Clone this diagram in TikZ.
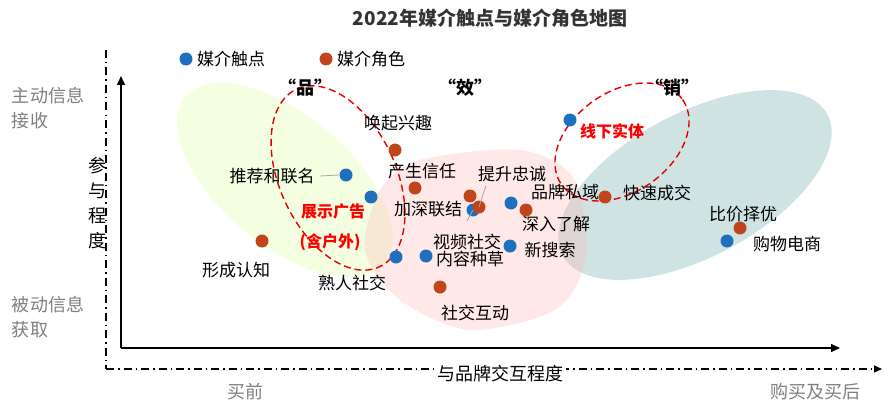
\documentclass[tikz,border=0pt]{standalone}
\usepackage{fontspec}
\setmainfont{Noto Sans CJK SC}
\usetikzlibrary{arrows.meta}
\definecolor{bdot}{HTML}{1F6FBF}
\definecolor{odot}{HTML}{C0451B}
\definecolor{gtxt}{HTML}{7F7F7F}
\tikzset{
 bd/.style={circle,fill=bdot,inner sep=0pt,minimum size=13pt},
 od/.style={circle,fill=odot,inner sep=0pt,minimum size=13pt},
 lb/.style={font=\fontsize{17}{17}\selectfont,inner sep=0pt},
 rl/.style={font=\fontsize{16}{16}\selectfont\bfseries,text=red,inner sep=0pt},
 gl/.style={font=\fontsize{18}{25}\selectfont,text=gtxt,inner sep=0pt,align=left},
 ptr/.style={draw=gray!70,line width=0.8pt},
 dd/.style={line width=1.2pt,dash pattern=on 8pt off 4pt on 1.5pt off 4pt},
 ring/.style={draw=red!90!black,line width=1.4pt,dash pattern=on 7pt off 4pt}
}
\begin{document}
\begin{tikzpicture}[x=1pt,y=-1pt]
\useasboundingbox (0,0) rectangle (890,409);
% blobs
\fill[green!40!yellow,opacity=0.12,rotate around={-40:(285,180)}] (285,180) ellipse (130 and 65);
\fill[teal!70!gray,opacity=0.22,rotate around={28:(695,185)}] (695,185) ellipse (150 and 72);
\fill[red!30,opacity=0.3] plot[smooth cycle] coordinates {(420,160)(520,150)(575,180)(585,260)(555,310)(470,330)(400,300)(365,250)(380,190)};
\draw[ring,rotate around={25:(338,178)}] (338,178) ellipse (58 and 98);
\draw[ring,rotate around={35:(622,142)}] (622,142) ellipse (74 and 50);
% title & legend
\node[font=\fontsize{19}{19}\selectfont\bfseries,text=black!80] (title) at (490,18) {2022年媒介触点与媒介角色地图};
\node[bd] (lgb) at (186,59) {};
\node[lb,anchor=west] (lgbt) at (197,59) {媒介触点};
\node[od] (lgo) at (326,59) {};
\node[lb,anchor=west] (lgot) at (337,59) {媒介角色};
\node[font=\fontsize{18}{18}\selectfont\bfseries] (q1) at (305,88) {“品”};
\node[font=\fontsize{18}{18}\selectfont\bfseries] (q2) at (465,88) {“效”};
\node[font=\fontsize{18}{18}\selectfont\bfseries] (q3) at (672,88) {“销”};
% axes
\coordinate (o) at (121,348);
\coordinate (yt) at (121,76);
\coordinate (xt) at (840,348);
\draw[line width=1.5pt,-{Triangle[length=9pt,width=8pt]}] (o) -- (yt);
\draw[line width=1.5pt,-{Triangle[length=9pt,width=8pt]}] (o) -- (xt);
\coordinate (v1) at (106,50);
\coordinate (v2) at (106,369);
\coordinate (h2) at (882,369);
\draw[dd] (v1) -- (v2);
\draw[dd,-{Triangle[length=8pt,width=7pt]}] (v2) -- (h2);
\node[gl] (l1) at (48,108) {主动信息\\接收};
\node[gl] (l2) at (48,317) {被动信息\\获取};
\node[lb,align=center,font=\fontsize{18}{25}\selectfont] (ya) at (97,203) {参\\与\\程\\度};
\node[lb,font=\fontsize{18}{18}\selectfont,fill=white,inner sep=3pt] (xa) at (500,374) {与品牌交互程度};
\node[gl] (b1) at (245,392) {买前};
\node[gl] (b2) at (815,392) {购买及买后};
% dots
\node[bd] (d1) at (346,175) {};
\node[bd] (d2) at (371,197) {};
\node[bd] (d3) at (396,257) {};
\node[bd] (d4) at (426,256) {};
\node[bd] (d5) at (473,210) {};
\node[bd] (d6) at (511,203) {};
\node[bd] (d7) at (510,246) {};
\node[bd] (d8) at (570,120) {};
\node[bd] (d9) at (727,241) {};
\node[od] (r1) at (395,150) {};
\node[od] (r2) at (415,188) {};
\node[od] (r3) at (470,196) {};
\node[od] (r4) at (479,207) {};
\node[od] (r5) at (526,210) {};
\node[od] (r6) at (605,197) {};
\node[od] (r7) at (262,241) {};
\node[od] (r8) at (440,287) {};
\node[od] (r9) at (740,228) {};
% labels
\node[lb] (t1) at (398,123) {唤起兴趣};
\node[lb] (t2) at (422,171) {产生信任};
\node[lb] (t3) at (512,174) {提升忠诚};
\node[lb] (t4) at (565,192) {品牌私域};
\node[lb] (t5) at (428,209) {加深联结};
\node[lb] (t6) at (556,224) {深入了解};
\node[lb] (t7) at (467,242) {视频社交};
\node[lb] (t8) at (470,259) {内容种草};
\node[lb] (t9) at (550,250) {新搜索};
\node[lb] (t10) at (352,283) {熟人社交};
\node[lb] (t11) at (475,313) {社交互动};
\node[lb] (t12) at (272,176) {推荐和联名};
\node[lb] (t13) at (236,270) {形成认知};
\node[lb] (t14) at (657,193) {快速成交};
\node[lb] (t15) at (743,214) {比价择优};
\node[lb] (t16) at (787,244) {购物电商};
\node[rl] (t17) at (612,131) {线下实体};
\node[rl] (t18) at (333,211) {展示广告};
\node[rl] (t19) at (330,242) {(含户外)};
% pointers
\draw[ptr] (t12.east) ++(5,0) coordinate (p1) -- (d1.west);
\draw[ptr] (t3.south west) ++(8,4) coordinate (p2) -- (r4.center);
\draw[ptr] (d5.center) -- ++(-6,11) coordinate (p3);
\end{tikzpicture}
\end{document}
